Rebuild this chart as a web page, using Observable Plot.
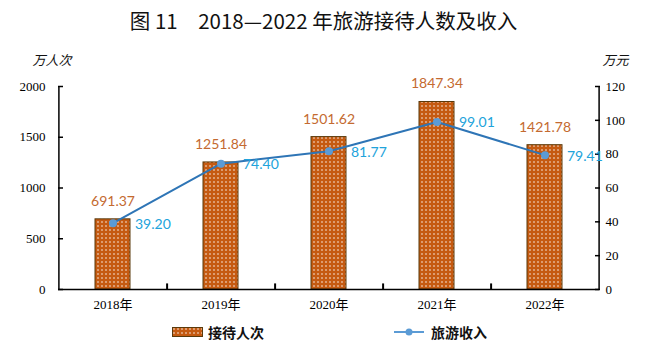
<!DOCTYPE html>
<html>
<head>
<meta charset="utf-8">
<script src="https://cdn.jsdelivr.net/npm/d3@7"></script>
<script src="https://cdn.jsdelivr.net/npm/@observablehq/plot@0.6"></script>
<style>
  body { margin: 0; background: #fff; width: 647px; height: 350px; position: relative; overflow: hidden; }
  #title { position: absolute; left: 0; top: 5px; width: 647px; text-align: center; font-family: "Noto Sans CJK SC", sans-serif; font-size: 20.5px; font-weight: 400; color: #111; }
  #chart { position: absolute; left: 0; top: 40px; }
  #legend { position: absolute; top: 322px; left: 0; width: 647px; height: 20px; font-family: "Noto Sans CJK SC", sans-serif; font-weight: 700; font-size: 14px; color: #111; }
  .item { position: absolute; top: 0; display: flex; align-items: center; height: 20px; }
  .item svg { margin-right: 5px; }
</style>
</head>
<body>
<div id="title">图 11　2018—2022 年旅游接待人数及收入</div>
<div id="chart"></div>
<div id="legend"></div>
<script>
const categories = ["2018年", "2019年", "2020年", "2021年", "2022年"];
const visitors = [691.37, 1251.84, 1501.62, 1847.34, 1421.78];
const revenue = [39.20, 74.40, 81.77, 99.01, 79.41];
const leftTicks = [0, 500, 1000, 1500, 2000];
const rightTicks = [0, 20, 40, 60, 80, 100, 120];
const leftMax = 2000, rightMax = 120;
const seriesNames = ["接待人次", "旅游收入"];
const units = ["万人次", "万元"];

const k = leftMax / rightMax;
const data = categories.map((c, i) => ({cat: c, v: visitors[i], r: revenue[i], rs: revenue[i] * k}));

const barColor = "#C55A11";
const barText = "#C46A30";
const lineColor = "#2E75B6";
const dotColor = "#5B9BD5";
const lineText = "#21A3DB";
const serif = "'Liberation Serif', 'Noto Sans CJK SC', serif";
const half = 54.1; // half of a band step, in pixels

const plot = Plot.plot({
  width: 647,
  height: 280,
  marginLeft: 58,
  marginRight: 48,
  marginTop: 46,
  marginBottom: 31,
  style: {fontFamily: serif, fontSize: "13px", color: "#000", background: "transparent"},
  x: {domain: categories, paddingInner: 0.68, paddingOuter: 0.34, label: null},
  y: {domain: [0, leftMax], label: null},
  marks: [
    Plot.barY(data, {x: "cat", y: "v", fill: "url(#dots)", stroke: "#5A3A0C", strokeWidth: 1}),
    Plot.ruleY([0], {stroke: "#000", strokeWidth: 1.5}),
    Plot.ruleX(categories.slice(0, -1), {x: d => d, dx: half, y1: 0, y2: 55, stroke: "#000", strokeWidth: 2}),
    Plot.ruleX([categories[0]], {x: d => d, dx: -half, y1: 0, y2: leftMax, stroke: "#000", strokeWidth: 1.5}),
    Plot.ruleX([categories[categories.length - 1]], {x: d => d, dx: half, y1: 0, y2: leftMax, stroke: "#000", strokeWidth: 1.5}),
    Plot.axisX({tickSize: 0, tickPadding: 10, fontSize: 13, fontFamily: serif}),
    Plot.axisY({anchor: "left", ticks: leftTicks, tickSize: -5, tickPadding: 18, strokeWidth: 1.5, tickFormat: d => String(d), fontSize: 13, fontFamily: serif}),
    Plot.axisY({anchor: "right", ticks: rightTicks.map(t => t * k), tickSize: -5, tickPadding: 11, strokeWidth: 1.5, tickFormat: d => String(Math.round(d / k)), fontSize: 13, fontFamily: serif}),
    Plot.lineY(data, {x: "cat", y: "rs", stroke: lineColor, strokeWidth: 2}),
    Plot.dot(data, {x: "cat", y: "rs", r: 4, fill: dotColor, stroke: "none"}),
    Plot.text(data, {x: "cat", y: "v", text: d => d.v.toFixed(2), dy: -18, fill: barText, fontFamily: "Lato, sans-serif", fontSize: 14}),
    Plot.text(data, {x: "cat", y: "rs", text: d => d.r.toFixed(2), dx: 22, dy: 1, textAnchor: "start", fill: lineText, fontFamily: "Lato, sans-serif", fontSize: 14}),
    Plot.text([units[0]], {frameAnchor: "top-left", text: d => d, dx: -26, dy: -31, fontFamily: serif, fontStyle: "italic", fontSize: 13, fill: "#111"}),
    Plot.text([units[1]], {frameAnchor: "top-right", text: d => d, dx: 29, dy: -31, fontFamily: serif, fontStyle: "italic", fontSize: 13, fill: "#111"})
  ]
});

function addPattern(svg, id) {
  const defs = d3.select(svg).insert("defs", ":first-child");
  const p = defs.append("pattern").attr("id", id).attr("patternUnits", "userSpaceOnUse").attr("width", 4).attr("height", 4);
  p.append("rect").attr("width", 4).attr("height", 4).attr("fill", barColor);
  p.append("circle").attr("cx", 2).attr("cy", 2).attr("r", 0.75).attr("fill", "#fff");
}
addPattern(plot, "dots");
document.getElementById("chart").appendChild(plot);

// legend
const legend = d3.select("#legend");
const it1 = legend.append("div").attr("class", "item").style("left", "172px");
const s1 = it1.append("svg").attr("width", 31).attr("height", 10);
addPattern(s1.node(), "dots2");
s1.append("rect").attr("x", 0.5).attr("y", 0.5).attr("width", 30).attr("height", 9).attr("fill", "url(#dots2)").attr("stroke", "#5A3A0C");
it1.append("span").text(seriesNames[0]);

const it2 = legend.append("div").attr("class", "item").style("left", "394px");
const s2 = it2.append("svg").attr("width", 30).attr("height", 10);
s2.append("line").attr("x1", 0).attr("x2", 30).attr("y1", 5).attr("y2", 5).attr("stroke", dotColor).attr("stroke-width", 2);
s2.append("circle").attr("cx", 15).attr("cy", 5).attr("r", 3.5).attr("fill", dotColor);
it2.append("span").text(seriesNames[1]).style("margin-left", "2px");
</script>
</body>
</html>
